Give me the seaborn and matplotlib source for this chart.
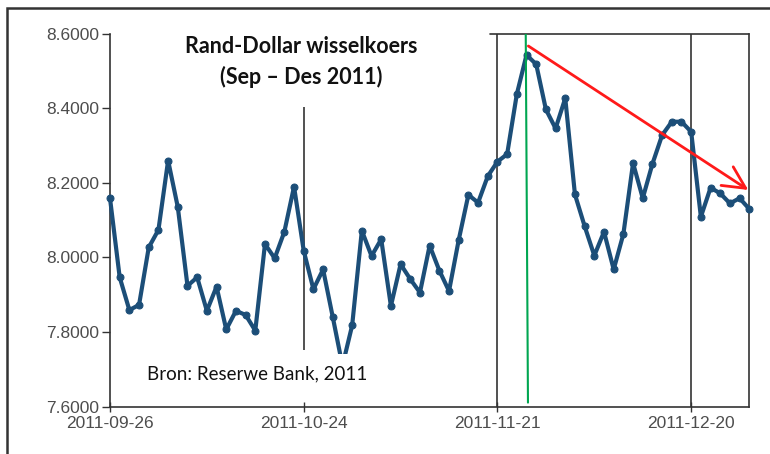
import numpy as np
import matplotlib
matplotlib.use("Agg")
import matplotlib.pyplot as plt
import seaborn as sns
import pandas as pd

# Rand-Dollar koers, een punt per handelsdag (26 Sep - 28 Des 2011)
koers = [
    8.159, 7.947, 7.859, 7.873, 8.027, 8.074, 8.260, 8.135, 7.924, 7.947,
    7.857, 7.922, 7.807, 7.857, 7.846, 7.804, 8.036, 7.998, 8.069, 8.190,
    8.018, 7.915, 7.968, 7.840, 7.710, 7.818, 8.072, 8.004, 8.049, 7.870,
    7.982, 7.942, 7.906, 8.032, 7.965, 7.910, 8.047, 8.168, 8.147, 8.218,
    8.257, 8.277, 8.438, 8.543, 8.518, 8.397, 8.346, 8.427, 8.169, 8.084,
    8.005, 8.069, 7.968, 8.063, 8.253, 8.159, 8.251, 8.328, 8.364, 8.364,
    8.337, 8.109, 8.187, 8.172, 8.145, 8.159, 8.130,
]
dag = list(range(len(koers)))

tick_pos = [0, 20, 40, 60]
tick_labels = ["2011-09-26", "2011-10-24", "2011-11-21", "2011-12-20"]
y_ticks = [7.6, 7.8, 8.0, 8.2, 8.4, 8.6]

df = pd.DataFrame({"dag": dag, "koers": koers})

sns.set_style("ticks")
plt.rcParams["font.family"] = ["Liberation Sans", "DejaVu Sans"]

lijn_kleur = "#1c4e78"
donker = "#333333"

fig = plt.figure(figsize=(7.7, 4.54), dpi=100)
ax = fig.add_axes([110 / 770, 1 - 406.7 / 454, 639.3 / 770, 373 / 454])

sns.lineplot(data=df, x="dag", y="koers", ax=ax, color=lijn_kleur,
             linewidth=3.0, marker="o", markersize=5,
             markeredgecolor=lijn_kleur, zorder=3)
for ln in ax.lines:
    ln.set_clip_on(False)

ax.set_xlim(0, len(koers) - 1)
ax.set_ylim(7.6, 8.6)
ax.set_xticks(tick_pos)
ax.set_xticklabels(tick_labels)
ax.set_yticks(y_ticks)
ax.set_yticklabels([f"{v:.4f}" for v in y_ticks])
ax.set_xlabel("")
ax.set_ylabel("")

ax.tick_params(axis="y", direction="out", length=6, width=1, colors=donker,
               labelsize=12.5, labelcolor="#4d4d4d", pad=2)
ax.tick_params(axis="x", direction="inout", length=7, width=1, colors=donker,
               labelsize=12.5, labelcolor="#4d4d4d", pad=3)

for kant in ["left", "bottom", "right"]:
    ax.spines[kant].set_color(donker)
    ax.spines[kant].set_linewidth(1.2)
ax.spines["top"].set_visible(False)

# kader bo-aan net oor die laaste deel
ax.plot([39.2, 66], [8.6, 8.6], color=donker, lw=1.2, clip_on=False)

# vertikale lyne
ax.axvline(40, color=donker, lw=1.2, zorder=2)
ax.axvline(60, color=donker, lw=1.2, zorder=2)
ax.vlines(20, 7.752, 8.404, color=donker, lw=1.2, zorder=2)

# groen lyn by die piek
ax.plot([42.92, 43.15], [8.6, 7.611], color="#00a651", lw=1.5, zorder=4)

# rooi tendenspyl
ax.annotate("", xy=(65.9, 8.181), xytext=(43.19, 8.567),
            arrowprops=dict(arrowstyle="->,head_length=0.8,head_width=0.4",
                            color="#ff1a1a", lw=2, mutation_scale=20,
                            shrinkA=0, shrinkB=0),
            zorder=5)

# titel
ax.text(19.7, 8.565, "Rand-Dollar wisselkoers", ha="center", va="center",
        fontsize=15.5, fontweight="bold", family=["Lato", "DejaVu Sans"],
        color="#111111")
ax.text(19.7, 8.483, "(Sep \u2013 Des 2011)", ha="center", va="center",
        fontsize=15.5, fontweight="bold", family=["Lato", "DejaVu Sans"],
        color="#111111")

# bron
ax.text(15.2, 7.688, "Bron: Reserwe Bank, 2011", ha="center", va="center",
        fontsize=13.5, family=["Lato", "DejaVu Sans"], color="#111111",
        bbox=dict(boxstyle="square,pad=0.6", facecolor="white",
                  edgecolor="none"),
        zorder=6)

# raam om die hele figuur
fig.add_artist(plt.Rectangle((7 / 770, -0.1), 1.2, 1.1 - 8 / 454,
                             transform=fig.transFigure, fill=False,
                             edgecolor=donker, lw=1.8))

fig.savefig("out.png", dpi=100)
